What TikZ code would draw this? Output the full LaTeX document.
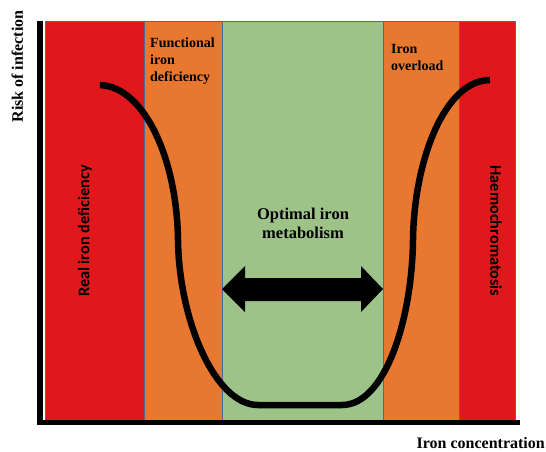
\documentclass[tikz,border=0pt]{standalone}
\usepackage{fontspec}
\setmainfont{Liberation Serif}
\newfontfamily\labelsans{Carlito}
\definecolor{deficred}{RGB}{224,24,28}
\definecolor{bandorange}{RGB}{232,120,48}
\definecolor{bandgreen}{RGB}{158,195,137}
\definecolor{bandedge}{RGB}{80,105,145}
\begin{document}
\begin{tikzpicture}[x=1pt,y=-1pt,
  band/.style={draw=bandedge, line width=0.7pt, anchor=north west,
    inner sep=0pt, outer sep=0pt, minimum height=399pt},
  heading/.style={font=\bfseries\fontsize{14}{17}\selectfont, align=left,
    anchor=north west, inner sep=0pt},
  axislabel/.style={font=\bfseries\fontsize{16}{19}\selectfont, inner sep=0pt},
  sidelabel/.style={font=\labelsans\fontsize{16.3}{19}\selectfont, inner sep=0pt},
  axisline/.style={draw=black, line cap=butt},
  riskcurve/.style={draw=black, line width=6.5pt, line cap=butt}]
  \useasboundingbox (0,0) rectangle (546,451);

  % iron status bands, low to high concentration
  \node[band, fill=deficred,   minimum width=99pt]  (realdef)  at (45,21)  {};
  \node[band, fill=bandorange, minimum width=78pt]  (funcdef)  at (144,21) {};
  \node[band, fill=bandgreen,  minimum width=161pt] (optimal)  at (222,21) {};
  \node[band, fill=bandorange, minimum width=76pt]  (overload) at (383,21) {};
  \node[band, fill=deficred,   minimum width=56pt]  (haemo)    at (459,21) {};

  % axes
  \coordinate (ytop)   at (40,21);
  \coordinate (origin) at (40,425);
  \coordinate (xend)   at (520,422.5);
  \draw[axisline, line width=6pt] (ytop) -- (origin);
  \draw[axisline, line width=5pt] (37,422.5) -- (xend);

  % U-shaped risk curve
  \draw[riskcurve] (100,85)
    .. controls (145,87) and (177,160) .. (178,240)
    .. controls (179,320) and (215,405) .. (258,405)
    -- (342,405)
    .. controls (385,405) and (412,320) .. (413,240)
    .. controls (414,160) and (445,80) .. (490,80);

  % double-headed arrow across the optimal range
  \coordinate (arrowL) at (optimal.west |- 0,289);
  \coordinate (arrowR) at (optimal.east |- 0,289);
  \fill[black] (arrowL) -- (245,266) -- (245,278) -- (361,278) -- (361,266)
    -- (arrowR) -- (361,312) -- (361,301) -- (245,301) -- (245,312) -- cycle;

  % band labels
  \node[heading] (funclabel) at (150,37.5) {Functional\\iron\\deficiency};
  \node[heading] (overlabel) at (391,44) {Iron\\overload};
  \node[font=\bfseries\fontsize{16.5}{19}\selectfont, align=center, inner sep=0pt]
    (optlabel) at (303,223) {Optimal iron\\metabolism};
  \node[sidelabel, rotate=90]  (reallabel)  at (85,231)  {\bfseries Real iron deficiency};
  \node[sidelabel, rotate=-90] (haemolabel) at (496,231) {\bfseries Haemochromatosis};

  % axis titles
  \node[axislabel, rotate=90, anchor=base] (ylabel) at (23,66.5) {Risk of infection};
  \node[axislabel, anchor=base east] (xlabel) at (545,448) {Iron concentration};
\end{tikzpicture}
\end{document}
